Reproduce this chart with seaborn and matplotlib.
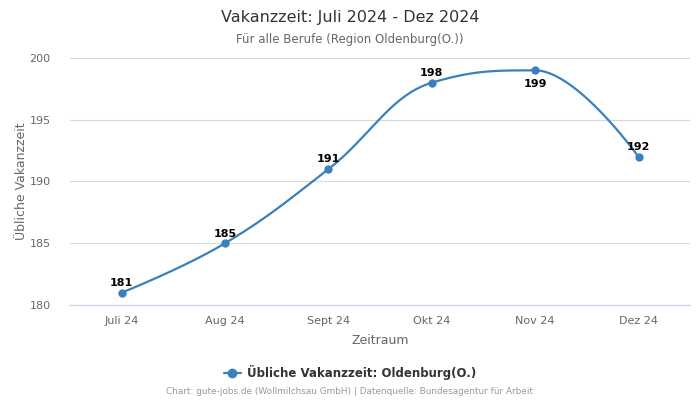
import matplotlib
matplotlib.use("Agg")
import matplotlib.pyplot as plt
import seaborn as sns
import numpy as np
import pandas as pd
from matplotlib.lines import Line2D

categories = ["Juli 24", "Aug 24", "Sept 24", "Okt 24", "Nov 24", "Dez 24"]
values = [181, 185, 191, 198, 199, 192]
label_below = [False, False, False, False, True, False]
yticks = [180, 185, 190, 195, 200]

COLOR = "#3a80bf"

sns.set_theme(style="white")
plt.rcParams['font.family'] = ['DejaVu Sans']

def highcharts_spline(xs, ys, n=60, smoothing=1.5):
    xs = np.asarray(xs, float); ys = np.asarray(ys, float)
    m = len(xs)
    lc = [(xs[i], ys[i]) for i in range(m)]
    rc = [(xs[i], ys[i]) for i in range(m)]
    d = smoothing + 1
    for i in range(1, m - 1):
        px, py = xs[i], ys[i]
        lx_, ly_ = xs[i-1], ys[i-1]
        nx_, ny_ = xs[i+1], ys[i+1]
        lcx = (smoothing*px + lx_)/d; lcy = (smoothing*py + ly_)/d
        rcx = (smoothing*px + nx_)/d; rcy = (smoothing*py + ny_)/d
        if rcx != lcx:
            corr = ((rcy - lcy)*(rcx - px))/(rcx - lcx) + py - rcy
            lcy += corr; rcy += corr
        if lcy > ly_ and lcy > py:
            lcy = max(ly_, py); rcy = 2*py - lcy
        elif lcy < ly_ and lcy < py:
            lcy = min(ly_, py); rcy = 2*py - lcy
        if rcy > ny_ and rcy > py:
            rcy = max(ny_, py); lcy = 2*py - rcy
        elif rcy < ny_ and rcy < py:
            rcy = min(ny_, py); lcy = 2*py - rcy
        lc[i] = (lcx, lcy); rc[i] = (rcx, rcy)
    outx, outy = [], []
    t = np.linspace(0, 1, n)
    for i in range(1, m):
        p0 = np.array([xs[i-1], ys[i-1]]); p1 = np.array(rc[i-1])
        p2 = np.array(lc[i]); p3 = np.array([xs[i], ys[i]])
        pts = ((1-t)**3)[:, None]*p0 + (3*(1-t)**2*t)[:, None]*p1 + (3*(1-t)*t**2)[:, None]*p2 + (t**3)[:, None]*p3
        outx.extend(pts[:, 0]); outy.extend(pts[:, 1])
    return np.array(outx), np.array(outy)

x_idx = np.arange(len(categories))
cx, cy = highcharts_spline(x_idx, values)
curve = pd.DataFrame({"x": cx, "y": cy})
pts = pd.DataFrame({"x": x_idx, "y": values})

fig = plt.figure(figsize=(7, 4), dpi=100)
ax = fig.add_axes([0.1, 0.2375, 0.886, 0.6175])

sns.lineplot(data=curve, x="x", y="y", ax=ax, color=COLOR, linewidth=1.6, sort=False, estimator=None)
sns.scatterplot(data=pts, x="x", y="y", ax=ax, color=COLOR, s=36, edgecolor=COLOR, linewidth=0, zorder=5)

for xi, v, below in zip(x_idx, values, label_below):
    ax.annotate(str(v), (xi, v), xytext=(0, -10 if below else 7), textcoords="offset points",
                ha="center", va="center", fontsize=8, fontweight="bold", color="black")

ax.set_xlim(-0.5, len(categories) - 0.5)
ax.set_ylim(180, 200)
ax.set_yticks(yticks)
ax.set_xticks(x_idx)
ax.set_xticklabels(categories)
ax.tick_params(axis="both", labelsize=8, labelcolor="#666666", length=0)
ax.tick_params(axis="x", pad=8)
ax.tick_params(axis="y", pad=14)
ax.grid(axis="y", color="#d8d8d8", linewidth=0.8)
ax.set_axisbelow(True)
for s in ["top", "right", "left"]:
    ax.spines[s].set_visible(False)
ax.spines["bottom"].set_color("#ccd6eb")
ax.spines["bottom"].set_linewidth(1)

ax.set_xlabel("Zeitraum", fontsize=9, color="#666666", labelpad=6)
ax.set_ylabel("Übliche Vakanzzeit", fontsize=9, color="#666666", labelpad=1)

fig.text(0.5, 0.957, "Vakanzzeit: Juli 2024 - Dez 2024", ha="center", va="center", fontsize=11.5, color="#333333")
fig.text(0.5, 0.902, "Für alle Berufe (Region Oldenburg(O.))", ha="center", va="center", fontsize=8.5, color="#666666")

handle = Line2D([0], [0], color=COLOR, marker="o", markersize=6, linewidth=1.6)
fig.legend([handle], ["Übliche Vakanzzeit: Oldenburg(O.)"], loc="center", bbox_to_anchor=(0.5, 0.068),
           frameon=False, prop={"size": 8.5, "weight": "bold"}, labelcolor="#333333",
           handlelength=1.4, handletextpad=0.5)

fig.text(0.5, 0.02, "Chart: gute-jobs.de (Wollmilchsau GmbH) | Datenquelle: Bundesagentur für Arbeit",
         ha="center", va="center", fontsize=6.4, color="#999999")

fig.savefig("out.png", dpi=100)
